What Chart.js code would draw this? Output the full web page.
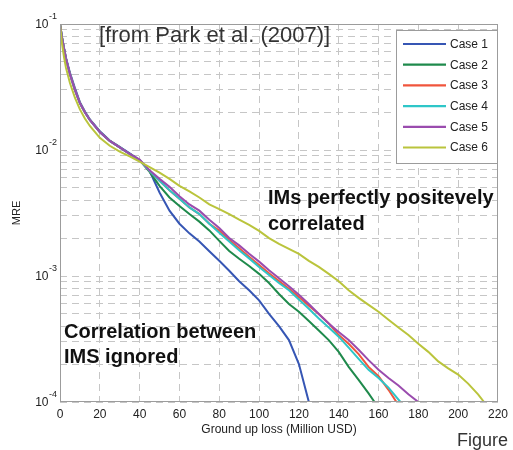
<!DOCTYPE html>
<html>
<head>
<meta charset="utf-8">
<script src="https://cdn.jsdelivr.net/npm/chart.js@4.4.1/dist/chart.umd.min.js"></script>
<style>
html,body{margin:0;padding:0;background:#fff;}
#wrap{width:513px;height:450px;position:relative;}
</style>
</head>
<body>
<div id="wrap"><canvas id="c" width="513" height="450"></canvas></div>
<script>
// ---------------- data ----------------
const caseLabels = ['Case 1', 'Case 2', 'Case 3', 'Case 4', 'Case 5', 'Case 6'];
const caseColors = ['#3656b4', '#1f8a4c', '#f0553c', '#2ec6c8', '#9a4cae', '#bac43c'];

const case1X = [0,1,2,3,5,7.5,10,12.5,15,20,25,30,35,40,45,50,55,60,65,70,75,80,85,90,95,100,105,110,115,120,125];
const case1Y = [0.1,0.079,0.065,0.054,0.041,0.031,0.024,0.0202,0.0175,0.0141,0.0119,0.0106,0.0094,0.0083,0.0068,0.0046,0.0033,0.0026,0.00218,0.00188,0.00157,0.00132,0.0011,0.00091,0.00077,0.00064,0.0005,0.0004,0.00031,0.0002,0.0001];

const case2X = [0,1,2,3,5,7.5,10,12.5,15,20,25,30,35,40,45,50,55,60,65,70,75,80,85,90,95,100,105,110,115,120,125,130,135,140,145,150,155,158];
const case2Y = [0.1,0.078,0.064,0.053,0.040,0.030,0.0236,0.0199,0.0173,0.0139,0.0118,0.0105,0.0093,0.0083,0.0067,0.0052,0.0042,0.0036,0.0031,0.0027,0.0023,0.0019,0.00158,0.00137,0.0012,0.00104,0.00088,0.00072,0.0006,0.00052,0.00044,0.00037,0.00031,0.00025,0.00019,0.00015,0.000117,0.0001];

const case3X = [0,1,2,3,5,7.5,10,12.5,15,20,25,30,35,40,45,50,55,60,65,70,75,80,85,90,95,100,105,110,115,120,125,130,135,140,145,150,155,160,165,169];
const case3Y = [0.1,0.078,0.064,0.053,0.040,0.030,0.0236,0.0199,0.0173,0.0139,0.0118,0.0105,0.0093,0.0083,0.0068,0.0057,0.0048,0.0041,0.0035,0.0031,0.0026,0.0023,0.00193,0.00166,0.00142,0.00122,0.00105,0.00091,0.00079,0.00068,0.00058,0.0005,0.00042,0.00034,0.00029,0.00024,0.00019,0.00016,0.000125,0.0001];

const case4X = [0,1,2,3,5,7.5,10,12.5,15,20,25,30,35,40,45,50,55,60,65,70,75,80,85,90,95,100,105,110,115,120,125,130,135,140,145,150,155,160,165,171];
const case4Y = [0.1,0.078,0.064,0.053,0.040,0.030,0.0236,0.0199,0.0173,0.0139,0.0118,0.0105,0.0093,0.0083,0.0068,0.0057,0.0048,0.0041,0.0035,0.0031,0.0026,0.0022,0.00188,0.0016,0.00138,0.00118,0.00102,0.00088,0.00077,0.00065,0.00055,0.00046,0.00039,0.00033,0.00027,0.00022,0.00018,0.000155,0.00013,0.0001];

const case5X = [0,1,2,3,5,7.5,10,12.5,15,20,25,30,35,40,45,50,55,60,65,70,75,80,85,90,95,100,105,110,115,120,125,130,135,140,145,150,155,160,165,170,175,180];
const case5Y = [0.1,0.078,0.064,0.053,0.040,0.030,0.0236,0.0199,0.0173,0.0139,0.0118,0.0105,0.0093,0.0084,0.0069,0.0059,0.0051,0.0043,0.0037,0.0033,0.0028,0.0024,0.002,0.00175,0.0015,0.0013,0.00111,0.00096,0.00083,0.00071,0.0006,0.0005,0.00042,0.00036,0.00031,0.00026,0.000215,0.00018,0.000155,0.000135,0.000115,0.0001];

const case6X = [0,1,2,3,5,7.5,10,12.5,15,20,25,30,35,40,45,50,55,60,65,70,75,80,85,90,95,100,105,110,115,120,125,130,135,140,145,150,155,160,165,170,175,180,185,190,195,200,205,210,213];
const case6Y = [0.1,0.07,0.055,0.045,0.034,0.026,0.021,0.0178,0.0155,0.0125,0.0108,0.0097,0.0089,0.0081,0.0073,0.0066,0.0059,0.0052,0.0047,0.0042,0.0037,0.0034,0.0031,0.0028,0.00255,0.00228,0.002,0.0018,0.00164,0.0015,0.00132,0.00118,0.00104,0.00091,0.00077,0.00067,0.00059,0.00052,0.00045,0.00039,0.00034,0.00029,0.00025,0.00021,0.000185,0.000165,0.00014,0.000115,0.0001];

const xTickValues = [0,20,40,60,80,100,120,140,160,180,200,220];
const yDecades = [1e-4, 1e-3, 1e-2, 1e-1];
const yDecadeBase = '10';
const yDecadeExponents = ['-4', '-3', '-2', '-1'];
const yMinorMultipliers = [1,2,3,4,5,6,7,8,9];

// ---------------- chart ----------------
const seriesX = [case1X, case2X, case3X, case4X, case5X, case6X];
const seriesY = [case1Y, case2Y, case3Y, case4Y, case5Y, case6Y];

const datasets = caseLabels.map((lab, i) => ({
  label: lab,
  data: seriesX[i].map((x, k) => ({x: x, y: seriesY[i][k]})),
  borderColor: caseColors[i],
  backgroundColor: caseColors[i],
  borderWidth: 2,
  pointRadius: 0,
  tension: 0,
  fill: false,
  order: caseLabels.length - i
}));

const gridColor = '#c6c6c6';
const FONT = 'Arial, "Liberation Sans", sans-serif';

const overlay = {
  id: 'overlay',
  afterDraw(chart) {
    const ctx = chart.ctx;
    const a = chart.chartArea;
    ctx.save();
    // frame
    ctx.strokeStyle = '#9c9c9c';
    ctx.lineWidth = 1;
    ctx.strokeRect(Math.round(a.left) + 0.5, Math.round(a.top) + 0.5,
                   Math.round(a.right - a.left) - 1, Math.round(a.bottom - a.top) - 1);

    // y decade labels with superscript exponents, placed by the y scale
    const ys = chart.scales.y;
    ctx.fillStyle = '#222';
    ctx.textBaseline = 'middle';
    yDecades.forEach((d, i) => {
      const py = ys.getPixelForValue(d);
      const rightX = a.left - 3;
      ctx.font = '9px ' + FONT;
      ctx.textAlign = 'right';
      const expW = ctx.measureText(yDecadeExponents[i]).width;
      ctx.fillText(yDecadeExponents[i], rightX, py - 7);
      ctx.font = '12px ' + FONT;
      ctx.fillText(yDecadeBase, rightX - expW - 0.5, py + 1);
    });

    // legend
    const bx = 396.5, by = 30.5, bw = 101, bh = 133;
    ctx.fillStyle = '#ffffff';
    ctx.fillRect(bx, by, bw, bh);
    ctx.strokeStyle = '#9c9c9c';
    ctx.lineWidth = 1;
    ctx.strokeRect(bx, by, bw, bh);
    ctx.font = '12px ' + FONT;
    ctx.textBaseline = 'middle';
    ctx.textAlign = 'left';
    chart.data.datasets.forEach((ds, i) => {
      const yy = 44 + i * 20.7;
      ctx.strokeStyle = ds.borderColor;
      ctx.lineWidth = 2.2;
      ctx.beginPath();
      ctx.moveTo(403, yy);
      ctx.lineTo(446, yy);
      ctx.stroke();
      ctx.fillStyle = '#222';
      ctx.fillText(ds.label, 450, yy + 0.5);
    });

    // annotations
    ctx.textAlign = 'left';
    ctx.fillStyle = '#333';
    ctx.font = '22px ' + FONT;
    ctx.fillText('[from Park et al. (2007)]', 99, 36);

    ctx.fillStyle = '#111';
    ctx.font = 'bold 20px ' + FONT;
    ctx.fillText('IMs perfectly positevely', 268, 198);
    ctx.fillText('correlated', 268, 224);
    ctx.fillText('Correlation between', 64, 332);
    ctx.fillText('IMS ignored', 64, 357);

    ctx.fillStyle = '#333';
    ctx.font = '18px ' + FONT;
    ctx.fillText('Figure', 457, 441);
    ctx.restore();
  }
};

new Chart(document.getElementById('c'), {
  type: 'line',
  data: { datasets: datasets },
  plugins: [overlay],
  options: {
    responsive: false,
    animation: false,
    devicePixelRatio: 1,
    layout: { padding: { left: 0, right: 12, top: 24, bottom: 0 } },
    plugins: { legend: { display: false }, tooltip: { enabled: false } },
    scales: {
      x: {
        type: 'linear',
        min: 0,
        max: 220,
        afterBuildTicks: (s) => { s.ticks = xTickValues.map(v => ({ value: v })); },
        afterFit: (s) => { s.height = 48; },
        ticks: { autoSkip: false, maxRotation: 0, padding: 5, color: '#222', font: { family: FONT, size: 12 } },
        grid: { color: gridColor, lineWidth: 1, drawTicks: false },
        border: { display: false, dash: [7, 5] },
        title: { display: true, text: 'Ground up loss (Million USD)', color: '#222',
                 font: { family: FONT, size: 12 }, padding: { top: 0, bottom: 13 } }
      },
      y: {
        type: 'logarithmic',
        min: 1e-4,
        max: 1e-1,
        afterBuildTicks: (s) => {
          const t = [];
          yDecades.forEach((d, di) => {
            yMinorMultipliers.forEach(m => {
              if (di === yDecades.length - 1 && m > 1) return;
              t.push({ value: d * m });
            });
          });
          s.ticks = t;
        },
        afterFit: (s) => { s.width = 60; },
        ticks: {
          autoSkip: false,
          padding: 4,
          font: { family: FONT, size: 12 },
          callback: () => ''
        },
        grid: { color: gridColor, lineWidth: 1, drawTicks: false },
        border: { display: false, dash: [7, 5] },
        title: { display: true, text: 'MRE', color: '#222',
                 font: { family: FONT, size: 11 }, padding: { top: 10, bottom: 0 } }
      }
    }
  }
});
</script>
</body>
</html>
